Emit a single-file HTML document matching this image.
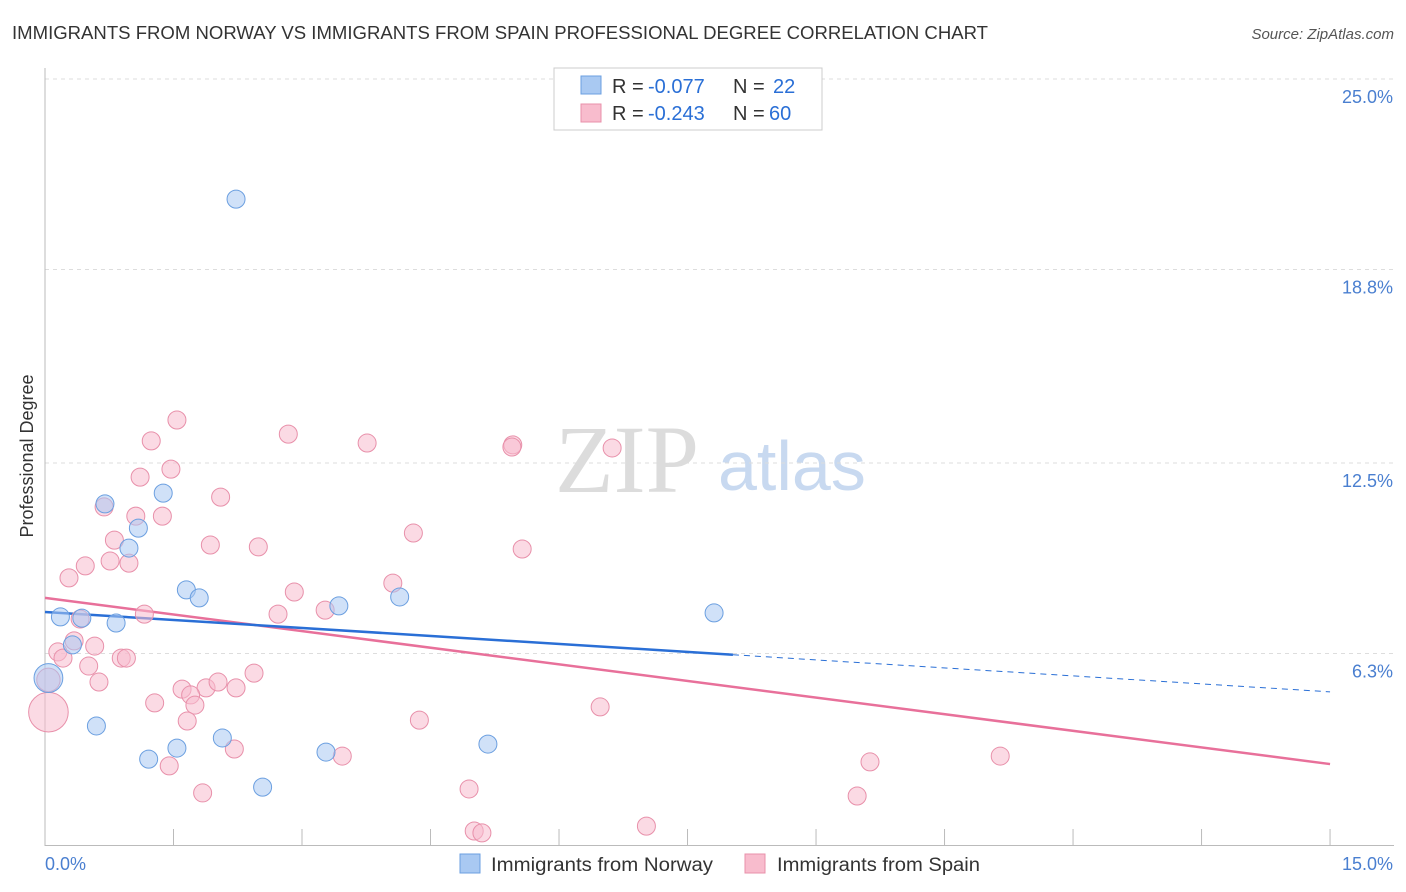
<!DOCTYPE html>
<html><head><meta charset="utf-8"><style>
body{margin:0;background:#fff;font-family:"Liberation Sans",sans-serif;}
svg{display:block}
</style></head><body>
<svg id="chart" width="1406" height="892">
<text x="12" y="39" font-size="18" fill="#333" textLength="976" lengthAdjust="spacingAndGlyphs">IMMIGRANTS FROM NORWAY VS IMMIGRANTS FROM SPAIN PROFESSIONAL DEGREE CORRELATION CHART</text>
<text x="1394" y="39" font-size="15" fill="#555" font-style="italic" text-anchor="end">Source: ZipAtlas.com</text>
<text x="33" y="456" font-size="18" fill="#333" text-anchor="middle" transform="rotate(-90 33 456)">Professional Degree</text>
<g>
<text x="555" y="492" font-size="96" font-family="Liberation Serif,serif" fill="#dcdcdc">ZIP</text>
<text x="718" y="490" font-size="70" fill="#c8d9f0">atlas</text>
</g>
<g id="grid"></g><g id="axes"></g><g id="lines"></g><g id="pts"></g>
<g>
<rect x="554" y="68" width="268" height="62" fill="#fff" stroke="#ccc"/>
<rect x="581" y="76" width="20" height="18" fill="#a9c9f2" stroke="#6b9fe0"/>
<rect x="581" y="104" width="20" height="18" fill="#f8bccd" stroke="#e890aa"/>
<text y="93" font-size="20" fill="#333"><tspan x="612">R =</tspan><tspan x="648" fill="#2a6fd6">-0.077</tspan><tspan x="733">N =</tspan><tspan x="773" fill="#2a6fd6">22</tspan></text>
<text y="120" font-size="20" fill="#333"><tspan x="612">R =</tspan><tspan x="648" fill="#2a6fd6">-0.243</tspan><tspan x="733">N =</tspan><tspan x="769" fill="#2a6fd6">60</tspan></text>
</g>
<g>
<rect x="460" y="854" width="20" height="19" fill="#a9c9f2" stroke="#6b9fe0"/>
<text x="491" y="871" font-size="19" fill="#333" textLength="222" lengthAdjust="spacingAndGlyphs">Immigrants from Norway</text>
<rect x="745" y="854" width="20" height="19" fill="#f8bccd" stroke="#e890aa"/>
<text x="777" y="871" font-size="19" fill="#333" textLength="203" lengthAdjust="spacingAndGlyphs">Immigrants from Spain</text>
</g>
</svg>
<script>
const yTicks=[6.3,12.5,18.8,25.0];
const yTickLabels=["6.3%","12.5%","18.8%","25.0%"];
const xTickCount=10;
const norwayX=[2.23,0.70,1.38,1.09,0.98,1.65,1.80,3.43,4.14,7.81,0.18,0.43,0.83,0.32,0.04,0.60,2.07,1.54,1.21,3.28,5.17,2.54];
const norwayY=[21.09,11.17,11.52,10.38,9.73,8.37,8.11,7.85,8.14,7.62,7.49,7.45,7.29,6.58,5.50,3.94,3.55,3.22,2.86,3.09,3.35,1.95];
const norwaySize=[1,1,1,1,1,1,1,1,1,1,1,1,1,1,1.6,1,1,1,1,1,1,1];
const spainX=[1.54,1.24,2.84,3.76,5.46,5.45,6.62,1.11,1.47,2.05,0.69,1.06,1.37,0.81,1.93,2.49,4.30,5.57,0.76,0.98,0.47,0.28,2.91,4.06,3.27,2.72,1.16,0.41,0.34,0.58,0.15,0.21,0.89,0.95,0.51,2.44,0.63,1.60,1.88,2.02,2.23,1.70,1.75,1.28,0.04,6.48,4.37,1.66,2.21,3.47,1.45,9.63,11.15,1.84,4.95,9.48,5.01,5.10,7.02,0.04];
const spainY=[13.90,13.22,13.44,13.15,13.09,13.02,12.99,12.04,12.30,11.39,11.07,10.77,10.77,9.99,9.83,9.77,10.22,9.70,9.31,9.24,9.15,8.76,8.30,8.59,7.71,7.58,7.58,7.42,6.71,6.54,6.35,6.15,6.15,6.15,5.89,5.66,5.37,5.14,5.18,5.37,5.18,4.95,4.62,4.69,5.44,4.56,4.13,4.10,3.19,2.96,2.64,2.77,2.96,1.76,1.89,1.66,0.52,0.46,0.68,4.39];
const spainSize=[1,1,1,1,1,1,1,1,1,1,1,1,1,1,1,1,1,1,1,1,1,1,1,1,1,1,1,1,1,1,1,1,1,1,1,1,1,1,1,1,1,1,1,1,1.3,1,1,1,1,1,1,1,1,1,1,1,1,1,1,2.2];
const norwayTrend=[7.65,5.05];
const norwaySolidEnd=8.03;
const spainTrend=[8.11,2.70];

const NS="http://www.w3.org/2000/svg";
const X=v=>45+v*85.67, Y=v=>847-v*30.72;
function mk(tag,attrs,parent){const e=document.createElementNS(NS,tag);for(const k in attrs)e.setAttribute(k,attrs[k]);document.getElementById(parent).appendChild(e);return e;}
yTicks.forEach((t,i)=>{
 const g=mk('line',{x1:45,x2:1394,y1:Y(t),y2:Y(t),stroke:'#ddd','stroke-dasharray':'4,4'},'grid');
 
 
 const l=mk('text',{x:1393,y:Y(t)+24,'font-size':18,fill:'#4a7fd0','text-anchor':'end'},'axes');
 l.textContent=yTickLabels[i];
 
 
});
let ax=mk('line',{x1:45,x2:45,y1:68,y2:846,stroke:'#bbb'},'axes');


ax=mk('line',{x1:45,x2:1394,y1:845.5,y2:845.5,stroke:'#bbb'},'axes');


for(let i=1;i<=xTickCount;i++){const tk=mk('line',{x1:X(i*1.5),x2:X(i*1.5),y1:829,y2:846,stroke:'#bbb'},'axes');
 
 }
let t=mk('text',{x:45,y:870,'font-size':18,fill:'#4a7fd0'},'axes');t.textContent='0.0%';


t=mk('text',{x:1393,y:870,'font-size':18,fill:'#4a7fd0','text-anchor':'end'},'axes');t.textContent='15.0%';


function pts(xs,ys,ss,fill,stroke,name){xs.forEach((x,i)=>{const c=mk('circle',{cx:X(x),cy:Y(ys[i]),r:9*ss[i],fill:fill,'fill-opacity':0.55,stroke:stroke,'stroke-width':1},'pts');
 
 });}
pts(spainX,spainY,spainSize,'#f8bccd','#e890aa','spain-point');
pts(norwayX,norwayY,norwaySize,'#a9c9f2','#6b9fe0','norway-point');
const ty=(tr,x)=>tr[0]+(tr[1]-tr[0])*x/15;
let ln=mk('line',{x1:X(0),y1:Y(spainTrend[0]),x2:X(15),y2:Y(spainTrend[1]),stroke:'#e8709a','stroke-width':2.5},'lines');


ln=mk('line',{x1:X(0),y1:Y(norwayTrend[0]),x2:X(norwaySolidEnd),y2:Y(ty(norwayTrend,norwaySolidEnd)),stroke:'#2a6fd6','stroke-width':2.5},'lines');


ln=mk('line',{x1:X(norwaySolidEnd),y1:Y(ty(norwayTrend,norwaySolidEnd)),x2:X(15),y2:Y(norwayTrend[1]),stroke:'#2a6fd6','stroke-width':1,'stroke-dasharray':'6,5'},'lines');


</script>
</body></html>
